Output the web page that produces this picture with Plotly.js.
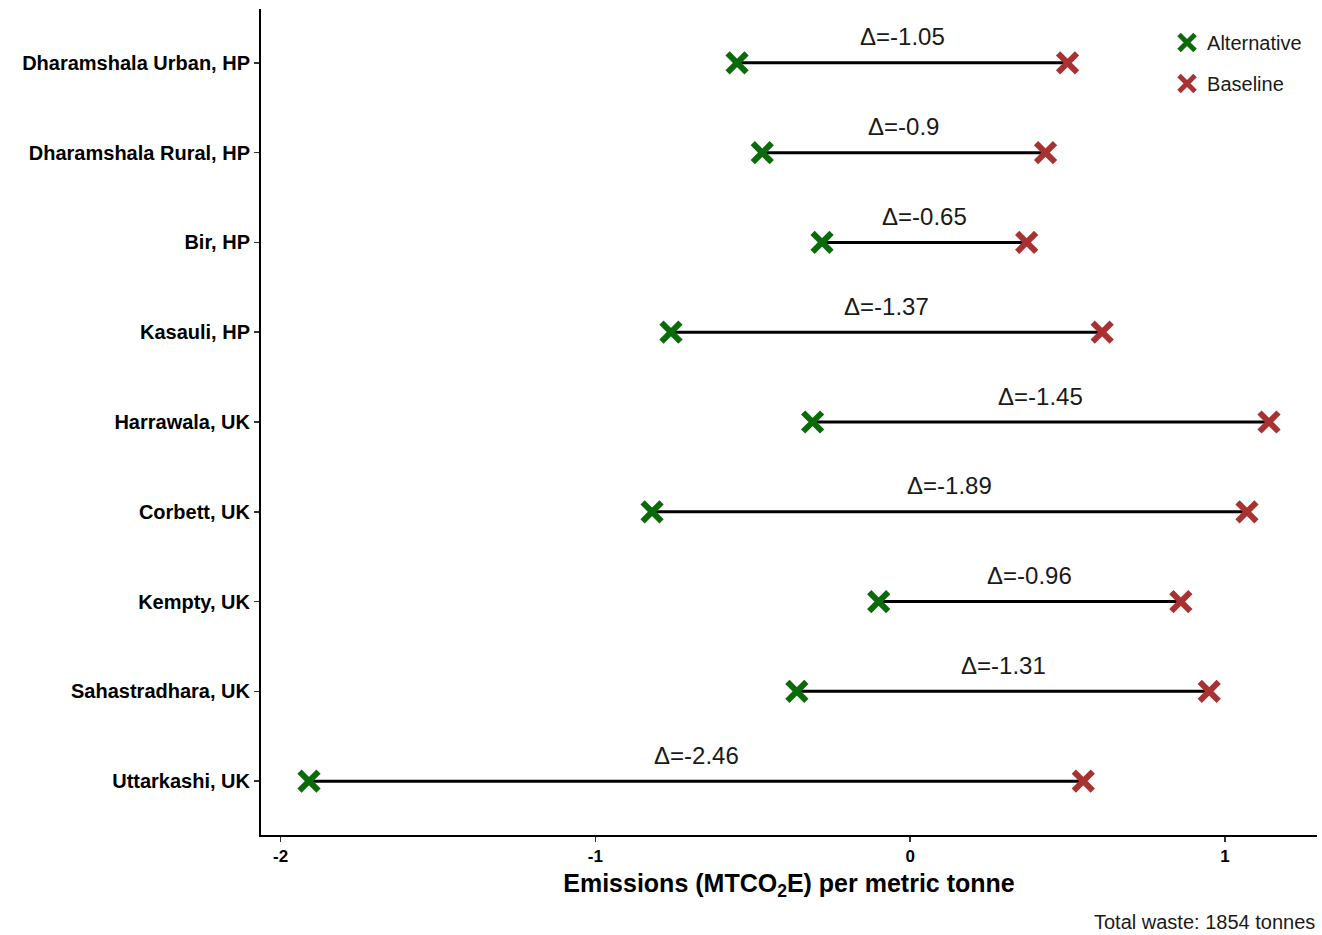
<!DOCTYPE html>
<html>
<head>
<meta charset="utf-8">
<script src="https://cdn.plot.ly/plotly-3.0.1.min.js"></script>
<style>html,body{margin:0;padding:0;background:#fff;}#chart{width:1322px;height:935px;}</style>
</head>
<body>
<div id="chart"></div>
<script>
const sites = ["Dharamshala Urban, HP","Dharamshala Rural, HP","Bir, HP","Kasauli, HP","Harrawala, UK","Corbett, UK","Kempty, UK","Sahastradhara, UK","Uttarkashi, UK"];
const alternative = [-0.55, -0.47, -0.28, -0.76, -0.31, -0.82, -0.10, -0.36, -1.91];
const baseline = [0.50, 0.43, 0.37, 0.61, 1.14, 1.07, 0.86, 0.95, 0.55];
const deltaLabels = ["Δ=-1.05","Δ=-0.9","Δ=-0.65","Δ=-1.37","Δ=-1.45","Δ=-1.89","Δ=-0.96","Δ=-1.31","Δ=-2.46"];
const caption = "Total waste: 1854 tonnes";

const FONT = "Liberation Sans, Arial, sans-serif";
const GREEN = "#0b6b0b";
const RED = "#a83232";

const segX = [], segY = [];
sites.forEach((s, i) => { segX.push(alternative[i], baseline[i], null); segY.push(s, s, null); });

const traces = [
  {x: segX, y: segY, mode: "lines", line: {color: "#000", width: 3}, showlegend: false, hoverinfo: "skip", type: "scatter"},
  {x: alternative, y: sites, mode: "markers", name: "Alternative", legendgroup: "a", type: "scatter",
   marker: {symbol: "x-thin", size: 19, color: GREEN, line: {color: GREEN, width: 6}}},
  {x: baseline, y: sites, mode: "markers", name: "Baseline", legendgroup: "b", type: "scatter",
   marker: {symbol: "x-thin", size: 19, color: RED, line: {color: RED, width: 6}}}
];

const annotations = sites.map((s, i) => ({
  x: (alternative[i] + baseline[i]) / 2, y: s, xref: "x", yref: "y",
  text: deltaLabels[i], showarrow: false, yshift: 26,
  font: {family: FONT, size: 24, color: "#1a1a1a"}
}));
annotations.push({x: 1, y: 0, xref: "paper", yref: "paper", xanchor: "right", yanchor: "middle",
  yshift: -87, text: caption, showarrow: false, font: {family: FONT, size: 20, color: "#1a1a1a"}});

const layout = {
  width: 1322, height: 935,
  margin: {l: 261, r: 5, t: 9, b: 100},
  paper_bgcolor: "#fff", plot_bgcolor: "#fff",
  font: {family: FONT, color: "#000"},
  xaxis: {range: [-2.0625, 1.2925], tickvals: [-2, -1, 0, 1], ticktext: ["-2","-1","0","1"],
    showgrid: false, zeroline: false, showline: true, linecolor: "#000", linewidth: 2,
    ticks: "outside", ticklen: 5, tickwidth: 1.5, tickcolor: "#333",
    tickfont: {family: FONT, size: 17, weight: "bold", color: "#000"},
    title: {text: "Emissions (MTCO<sub>2</sub>E) per metric tonne", standoff: 9,
      font: {family: FONT, size: 25, weight: "bold", color: "#000"}}},
  yaxis: {type: "category", categoryorder: "array", categoryarray: sites, range: [8.6, -0.6],
    showgrid: false, zeroline: false, showline: true, linecolor: "#000", linewidth: 2,
    ticks: "outside", ticklen: 5, tickwidth: 1.5, tickcolor: "#333",
    tickfont: {family: FONT, size: 20, weight: "bold", color: "#000"}},
  legend: {x: 0.858, y: 0.983, xanchor: "left", yanchor: "top", bgcolor: "rgba(0,0,0,0)",
    font: {family: FONT, size: 20, color: "#1a1a1a"}, traceorder: "grouped", tracegroupgap: 12},
  annotations: annotations,
  showlegend: true
};

Plotly.newPlot("chart", traces, layout, {displayModeBar: false, staticPlot: true});
</script>
</body>
</html>
